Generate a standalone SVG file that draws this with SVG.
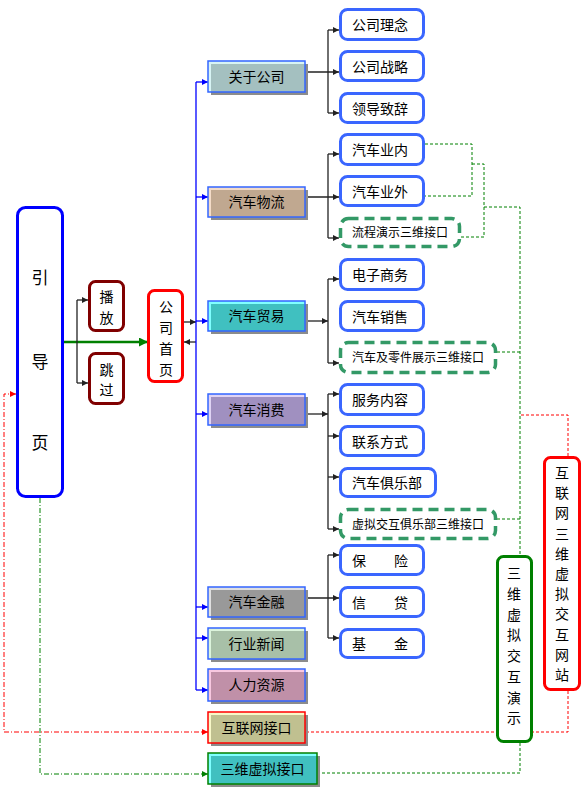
<svg xmlns="http://www.w3.org/2000/svg" width="586" height="792" viewBox="0 0 586 792">
<style>
text{font-family:"Liberation Sans","Noto Sans CJK SC",sans-serif;fill:#000;}
.t14{font-size:14px;}
.t12{font-size:12px;}
.t17{font-size:17px;}
.mid{text-anchor:middle;}
.sh{fill:#8c8c8c;}
.bd{fill:none;stroke:#3366ff;stroke-width:1.5;}
.rb{fill:#fff;stroke:#3a66ff;stroke-width:3;}
.db{fill:#fff;stroke:#339966;stroke-width:3.5;stroke-dasharray:10,6;}
.blk{fill:none;stroke:#222;stroke-width:1.3;}
.blu{fill:none;stroke:#0000ff;stroke-width:1.3;}
.gd{fill:none;stroke:#008000;stroke-width:1;stroke-dasharray:3,2;}
.rd{fill:none;stroke:#ff0000;stroke-width:1;stroke-dasharray:3,2;}
.rdl{fill:none;stroke:#ff0000;stroke-width:1;stroke-dasharray:5,2,1,2;}
.gdl{fill:none;stroke:#008000;stroke-width:1;stroke-dasharray:5,2,1,2;}
</style>
<defs>
<marker id="ak" viewBox="0 0 10 10" refX="10" refY="5" markerWidth="7" markerHeight="6" markerUnits="userSpaceOnUse" orient="auto"><path d="M0,0 L10,5 L0,10 z" fill="#222"/></marker>
<marker id="ab" viewBox="0 0 10 10" refX="10" refY="5" markerWidth="7" markerHeight="6" markerUnits="userSpaceOnUse" orient="auto"><path d="M0,0 L10,5 L0,10 z" fill="#0000ff"/></marker>
<marker id="ag" viewBox="0 0 10 10" refX="10" refY="5" markerWidth="10" markerHeight="9" markerUnits="userSpaceOnUse" orient="auto"><path d="M0,0 L10,5 L0,10 z" fill="#008000"/></marker>
<marker id="ags" viewBox="0 0 10 10" refX="10" refY="5" markerWidth="7" markerHeight="6" markerUnits="userSpaceOnUse" orient="auto"><path d="M0,0 L10,5 L0,10 z" fill="#008000"/></marker>
<marker id="ar" viewBox="0 0 10 10" refX="10" refY="5" markerWidth="7" markerHeight="6" markerUnits="userSpaceOnUse" orient="auto-start-reverse"><path d="M0,0 L10,5 L0,10 z" fill="#ff0000"/></marker>
</defs>

<g id="connectors">
<!-- dashed links -->
<path class="gd" d="M425,144 H472 V196 H425"/>
<path class="gd" d="M472,164 H484 V237 H461"/>
<path class="gd" d="M484,207 H520 V555"/>
<path class="gd" d="M497,352 H520"/>
<path class="gd" d="M497,519 H520"/>
<path class="gd" d="M520,743 V773 H317"/>
<path class="gdl" d="M40,498 V774 H208" marker-end="url(#ags)"/>
<path class="rd" d="M568,456 V415 H520"/>
<path class="rd" d="M568,691 V732 H305"/>
<path class="rdl" d="M16,394 H4 V732 H208" marker-start="url(#ar)" marker-end="url(#ar)"/>
<!-- main -->
<path d="M64,342 H148" fill="none" stroke="#008000" stroke-width="2.5" marker-end="url(#ag)"/>
<path class="blk" d="M77,300 V383"/>
<path class="blk" d="M77,300 H88" marker-end="url(#ak)"/>
<path class="blk" d="M77,383 H88" marker-end="url(#ak)"/>
<path class="blk" d="M184,322 H196" marker-end="url(#ak)"/>
<path class="blk" d="M196,342 H184" marker-end="url(#ak)"/>
<!-- blue trunk -->
<path class="blu" d="M196,82 V690"/>
<path class="blu" d="M196,82 H208" marker-end="url(#ab)"/>
<path class="blu" d="M196,197 H208" marker-end="url(#ab)"/>
<path class="blu" d="M196,321 H208" marker-end="url(#ab)"/>
<path class="blu" d="M196,414 H208" marker-end="url(#ab)"/>
<path class="blu" d="M196,607 H208" marker-end="url(#ab)"/>
<path class="blu" d="M196,638 H208" marker-end="url(#ab)"/>
<path class="blu" d="M196,690 H208" marker-end="url(#ab)"/>
<!-- 关于公司 -->
<path class="blk" d="M305,72 H339" marker-end="url(#ak)"/>
<path class="blk" d="M328,30 V113"/>
<path class="blk" d="M328,30 H339" marker-end="url(#ak)"/>
<path class="blk" d="M328,113 H339" marker-end="url(#ak)"/>
<!-- 汽车物流 -->
<path class="blk" d="M305,197 H339" marker-end="url(#ak)"/>
<path class="blk" d="M328,154 V238"/>
<path class="blk" d="M328,154 H339" marker-end="url(#ak)"/>
<path class="blk" d="M328,238 H339" marker-end="url(#ak)"/>
<!-- 汽车贸易 -->
<path class="blk" d="M305,321 H328" marker-end="url(#ak)"/>
<path class="blk" d="M328,279 V363"/>
<path class="blk" d="M328,279 H339" marker-end="url(#ak)"/>
<path class="blk" d="M328,363 H339" marker-end="url(#ak)"/>
<!-- 汽车消费 -->
<path class="blk" d="M305,414 H328" marker-end="url(#ak)"/>
<path class="blk" d="M328,394 V529"/>
<path class="blk" d="M328,394 H339" marker-end="url(#ak)"/>
<path class="blk" d="M328,436 H339" marker-end="url(#ak)"/>
<path class="blk" d="M328,477 H339" marker-end="url(#ak)"/>
<path class="blk" d="M328,529 H339" marker-end="url(#ak)"/>
<!-- 汽车金融 -->
<path class="blk" d="M305,598 H339" marker-end="url(#ak)"/>
<path class="blk" d="M328,555 V638"/>
<path class="blk" d="M328,555 H339" marker-end="url(#ak)"/>
<path class="blk" d="M328,638 H339" marker-end="url(#ak)"/>
</g>

<!-- left nodes -->
<g id="yindaoye">
<rect x="17.5" y="207.5" width="45" height="289" rx="8" fill="#fff" stroke="#0000ff" stroke-width="3"/>
<text class="t17 mid" x="40" y="284">引</text>
<text class="t17 mid" x="40" y="368">导</text>
<text class="t17 mid" x="40" y="449">页</text>
</g>
<g id="bofang">
<rect x="89.5" y="281.5" width="34" height="49" rx="6" fill="#fff" stroke="#800000" stroke-width="3"/>
<text class="t14 mid" x="106.5" y="302">播</text>
<text class="t14 mid" x="106.5" y="323">放</text>
</g>
<g id="tiaoguo">
<rect x="89.5" y="353.5" width="34" height="50" rx="6" fill="#fff" stroke="#800000" stroke-width="3"/>
<text class="t14 mid" x="106.5" y="375">跳</text>
<text class="t14 mid" x="106.5" y="395">过</text>
</g>
<g id="gongsishouye">
<rect x="148.5" y="290.5" width="34" height="91" rx="6" fill="#fff" stroke="#ff0000" stroke-width="3"/>
<text class="t14 mid" x="166" y="312">公</text>
<text class="t14 mid" x="166" y="333">司</text>
<text class="t14 mid" x="166" y="354">首</text>
<text class="t14 mid" x="166" y="375">页</text>
</g>

<!-- second level -->
<g id="guanyugongsi">
<rect class="sh" x="211" y="64" width="97" height="31"/>
<rect x="208" y="61" width="97" height="31" fill="#d8f4f4"/>
<rect x="211" y="64" width="94" height="28" fill="#a4c0c0"/>
<rect class="bd" x="208" y="61" width="97" height="31"/>
<text class="t14 mid" x="256.5" y="81.5">关于公司</text>
</g>
<g id="qichewuliu">
<rect class="sh" x="211" y="190" width="97" height="30"/>
<rect x="208" y="187" width="97" height="30" fill="#f4dcc8"/>
<rect x="211" y="190" width="94" height="27" fill="#c0a890"/>
<rect class="bd" x="208" y="187" width="97" height="30"/>
<text class="t14 mid" x="256.5" y="207">汽车物流</text>
</g>
<g id="qichemaoyi">
<rect class="sh" x="211" y="304" width="97" height="30"/>
<rect x="208" y="301" width="97" height="30" fill="#80ffff"/>
<rect x="211" y="304" width="94" height="27" fill="#40c0c0"/>
<rect class="bd" x="208" y="301" width="97" height="30"/>
<text class="t14 mid" x="256.5" y="321">汽车贸易</text>
</g>
<g id="qichexiaofei">
<rect class="sh" x="211" y="397" width="97" height="31"/>
<rect x="208" y="394" width="97" height="31" fill="#e0d4f4"/>
<rect x="211" y="397" width="94" height="28" fill="#a090c0"/>
<rect class="bd" x="208" y="394" width="97" height="31"/>
<text class="t14 mid" x="256.5" y="414.5">汽车消费</text>
</g>
<g id="qichejinrong">
<rect class="sh" x="211" y="590" width="97" height="30"/>
<rect x="208" y="587" width="97" height="30" fill="#e0e0e0"/>
<rect x="211" y="590" width="94" height="27" fill="#999999"/>
<rect class="bd" x="208" y="587" width="97" height="30"/>
<text class="t14 mid" x="256.5" y="607">汽车金融</text>
</g>
<g id="hangyexinwen">
<rect class="sh" x="211" y="631" width="97" height="31"/>
<rect x="208" y="628" width="97" height="31" fill="#dcf4dc"/>
<rect x="211" y="631" width="94" height="28" fill="#a8c0a8"/>
<rect class="bd" x="208" y="628" width="97" height="31"/>
<text class="t14 mid" x="256.5" y="648.5">行业新闻</text>
</g>
<g id="renliziyuan">
<rect class="sh" x="211" y="672" width="97" height="32"/>
<rect x="208" y="669" width="97" height="32" fill="#f8c8e0"/>
<rect x="211" y="672" width="94" height="29" fill="#c090a8"/>
<rect class="bd" x="208" y="669" width="97" height="32"/>
<text class="t14 mid" x="256.5" y="690">人力资源</text>
</g>
<g id="hulianwangjiekou">
<rect class="sh" x="211" y="715" width="97" height="31"/>
<rect x="208" y="712" width="97" height="31" fill="#f8f8c8"/>
<rect x="211" y="715" width="94" height="28" fill="#c0c090"/>
<rect x="208" y="712" width="97" height="31" fill="none" stroke="#ff0000" stroke-width="1.5"/>
<text class="t14 mid" x="256.5" y="732.5">互联网接口</text>
</g>
<g id="sanweixunijiekou">
<rect class="sh" x="211" y="756" width="109" height="31"/>
<rect x="208" y="753" width="109" height="31" fill="#80ffff"/>
<rect x="211" y="756" width="106" height="28" fill="#40c0c0"/>
<rect x="208" y="753" width="109" height="31" fill="none" stroke="#008000" stroke-width="1.5"/>
<text class="t14 mid" x="262.5" y="773.5">三维虚拟接口</text>
</g>

<!-- third level -->
<g id="gongsilinian"><rect class="rb" x="340.5" y="9.5" width="83" height="30" rx="7"/><text class="t14" x="352" y="30">公司理念</text></g>
<g id="gongsizhanlue"><rect class="rb" x="340.5" y="51.5" width="83" height="29" rx="7"/><text class="t14" x="352" y="71.5">公司战略</text></g>
<g id="lingdaozhici"><rect class="rb" x="340.5" y="93.5" width="83" height="29" rx="7"/><text class="t14" x="352" y="113.5">领导致辞</text></g>
<g id="qicheyenei"><rect class="rb" x="340.5" y="134.5" width="83" height="30" rx="7"/><text class="t14" x="352" y="155">汽车业内</text></g>
<g id="qicheyewai"><rect class="rb" x="340.5" y="176.5" width="83" height="29" rx="7"/><text class="t14" x="352" y="196.5">汽车业外</text></g>
<g id="liuchengyanshi"><rect class="db" x="340.5" y="218.5" width="119" height="28" rx="8"/><text class="t12" x="352" y="237">流程演示三维接口</text></g>
<g id="dianzishangwu"><rect class="rb" x="340.5" y="259.5" width="83" height="30" rx="7"/><text class="t14" x="352" y="280">电子商务</text></g>
<g id="qichexiaoshou"><rect class="rb" x="340.5" y="301.5" width="83" height="29" rx="7"/><text class="t14" x="352" y="321.5">汽车销售</text></g>
<g id="lingjianzhanshi"><rect class="db" x="340.5" y="342.5" width="155" height="30" rx="8"/><text class="t12" x="352" y="362">汽车及零件展示三维接口</text></g>
<g id="fuwuneirong"><rect class="rb" x="340.5" y="384.5" width="83" height="30" rx="7"/><text class="t14" x="352" y="405">服务内容</text></g>
<g id="lianxifangshi"><rect class="rb" x="340.5" y="426.5" width="83" height="29" rx="7"/><text class="t14" x="352" y="446.5">联系方式</text></g>
<g id="qichejulebu"><rect class="rb" x="340.5" y="468.5" width="95" height="28" rx="7"/><text class="t14" x="352" y="488">汽车俱乐部</text></g>
<g id="xunijiaohu"><rect class="db" x="340.5" y="509.5" width="155" height="29" rx="8"/><text class="t12" x="352" y="529">虚拟交互俱乐部三维接口</text></g>
<g id="baoxian"><rect class="rb" x="340.5" y="545.5" width="83" height="29" rx="7"/><text class="t14" x="352" y="565.5">保　　险</text></g>
<g id="xindai"><rect class="rb" x="340.5" y="587.5" width="83" height="29" rx="7"/><text class="t14" x="352" y="607.5">信　　贷</text></g>
<g id="jijin"><rect class="rb" x="340.5" y="629.5" width="83" height="28" rx="7"/><text class="t14" x="352" y="649">基　　金</text></g>

<!-- right vertical nodes -->
<g id="sanweixunijiaohuyanshi">
<rect x="497.5" y="556.5" width="34" height="185" rx="6" fill="#fff" stroke="#008000" stroke-width="3"/>
<text class="t14 mid" x="514" y="578">三</text>
<text class="t14 mid" x="514" y="599">维</text>
<text class="t14 mid" x="514" y="620">虚</text>
<text class="t14 mid" x="514" y="640">拟</text>
<text class="t14 mid" x="514" y="661">交</text>
<text class="t14 mid" x="514" y="682">互</text>
<text class="t14 mid" x="514" y="703">演</text>
<text class="t14 mid" x="514" y="723">示</text>
</g>
<g id="hulianwangwangzhan">
<rect x="544.5" y="457.5" width="35" height="232" rx="6" fill="#fff" stroke="#ff0000" stroke-width="3"/>
<text class="t14 mid" x="562" y="478">互</text>
<text class="t14 mid" x="562" y="498">联</text>
<text class="t14 mid" x="562" y="518">网</text>
<text class="t14 mid" x="562" y="539">三</text>
<text class="t14 mid" x="562" y="559">维</text>
<text class="t14 mid" x="562" y="579">虚</text>
<text class="t14 mid" x="562" y="599">拟</text>
<text class="t14 mid" x="562" y="619">交</text>
<text class="t14 mid" x="562" y="640">互</text>
<text class="t14 mid" x="562" y="660">网</text>
<text class="t14 mid" x="562" y="680">站</text>
</g>
</svg>
